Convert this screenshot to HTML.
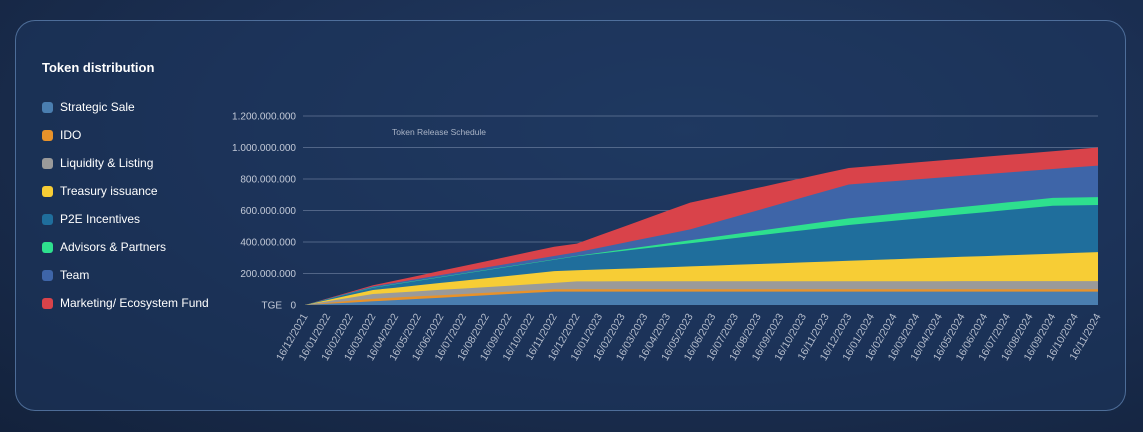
<!DOCTYPE html>
<html><head><meta charset="utf-8"><style>
html,body{margin:0;padding:0;width:1143px;height:432px;overflow:hidden;background:#182a48;font-family:"Liberation Sans",sans-serif}
.bg{position:absolute;inset:0;background:radial-gradient(ellipse at 60% 30%,#223c64 0%,#1b2f52 50%,#13223c 100%)}
.card{position:absolute;left:15px;top:20px;width:1109px;height:389px;border:1.5px solid rgba(120,160,210,0.55);border-radius:20px;background:rgba(30,55,95,0.55)}
.t{position:absolute;left:42px;top:60px;color:#fff;font-weight:bold;font-size:13px}
.lg{position:absolute;left:42px;color:#fff;font-size:12px;line-height:14px}
.lg i{display:inline-block;width:11px;height:11px;border-radius:3px;vertical-align:-2px;margin-right:7px}
svg{position:absolute;left:0;top:0}
</style></head><body>
<div class="bg"></div><div class="card"></div>
<div class="t">Token distribution</div>
<div class="lg" style="top:100px"><i style="background:#4a7eb0"></i>Strategic Sale</div>
<div class="lg" style="top:128px"><i style="background:#e8922a"></i>IDO</div>
<div class="lg" style="top:156px"><i style="background:#9a9a9a"></i>Liquidity &amp; Listing</div>
<div class="lg" style="top:184px"><i style="background:#f7cd35"></i>Treasury issuance</div>
<div class="lg" style="top:212px"><i style="background:#1f6e9c"></i>P2E Incentives</div>
<div class="lg" style="top:240px"><i style="background:#2ee08e"></i>Advisors &amp; Partners</div>
<div class="lg" style="top:268px"><i style="background:#3e65a8"></i>Team</div>
<div class="lg" style="top:296px"><i style="background:#d9434a"></i>Marketing/ Ecosystem Fund</div>
<svg id="s" width="1143" height="432" xmlns="http://www.w3.org/2000/svg" font-family="Liberation Sans, sans-serif"></svg>
<script>
var s=document.getElementById('s'),h='';
var X0=305,X1=1098,N=35,Y0=305,K=31.5/200;
function x(i){return X0+(X1-X0)*i/N}
function y(v){return Y0-v*K}
var labs=['1.200.000.000','1.000.000.000','800.000.000','600.000.000','400.000.000','200.000.000'];
for(var j=0;j<6;j++){var v=1200-200*j;h+='<line x1="303" x2="1098" y1="'+y(v)+'" y2="'+y(v)+'" stroke="rgba(180,195,220,0.35)" stroke-width="1"/>';h+='<text x="296" y="'+(y(v)+3.5)+'" text-anchor="end" font-size="10" fill="#c3cad8">'+labs[j]+'</text>';}
h+='<text x="296" y="308.5" text-anchor="end" font-size="10" fill="#c3cad8" xml:space="preserve">TGE   0</text>';
h+='<text x="392" y="135" font-size="8.5" fill="#aab4c6">Token Release Schedule</text>';
var S=[
['#4a7eb0',[[0,0],[11,85],[35,85]]],
['#e8922a',[[0,0],[3,40],[11,100],[35,100]]],
['#9a9a9a',[[0,0],[3,70],[11,140],[12,150],[35,152]]],
['#f7cd35',[[0,0],[3,95],[11,215],[35,336]]],
['#1f6e9c',[[0,0],[3,110],[12,310],[24,508],[33,630],[35,635]]],
['#2ee08e',[[0,0],[3,112],[12,312],[24,550],[33,680],[35,685]]],
['#3e65a8',[[0,0],[3,118],[12,335],[17,480],[24,765],[35,885]]],
['#d9434a',[[0,0],[3,125],[11,370],[12,390],[17,650],[24,870],[35,1000]]]];
function val(p,i){for(var k=1;k<p.length;k++){if(i<=p[k][0]){var a=p[k-1],b=p[k];return a[1]+(b[1]-a[1])*(i-a[0])/(b[0]-a[0]);}}return p[p.length-1][1];}
var pts=[];for(var i=0;i<=35;i++)pts.push(i);
for(var k=S.length-1;k>=0;k--){var p=S[k][1],d='';
 pts.forEach(function(i,n){d+=(n?'L':'M')+x(i).toFixed(1)+','+y(val(p,i)).toFixed(1)});
 d+='L'+X1+','+Y0+'L'+X0+','+Y0+'Z';h+='<path d="'+d+'" fill="'+S[k][0]+'"/>';}
for(var i=0;i<=35;i++){var mo=(11+i)%12+1,yr=2021+Math.floor((11+i)/12);var t='16/'+(mo<10?'0':'')+mo+'/'+yr;
 h+='<text transform="translate('+(x(i)+3)+',316) rotate(-60)" text-anchor="end" font-size="10.5" fill="#b5bdcc">'+t+'</text>';}
s.innerHTML=h;
</script>
</body></html>
